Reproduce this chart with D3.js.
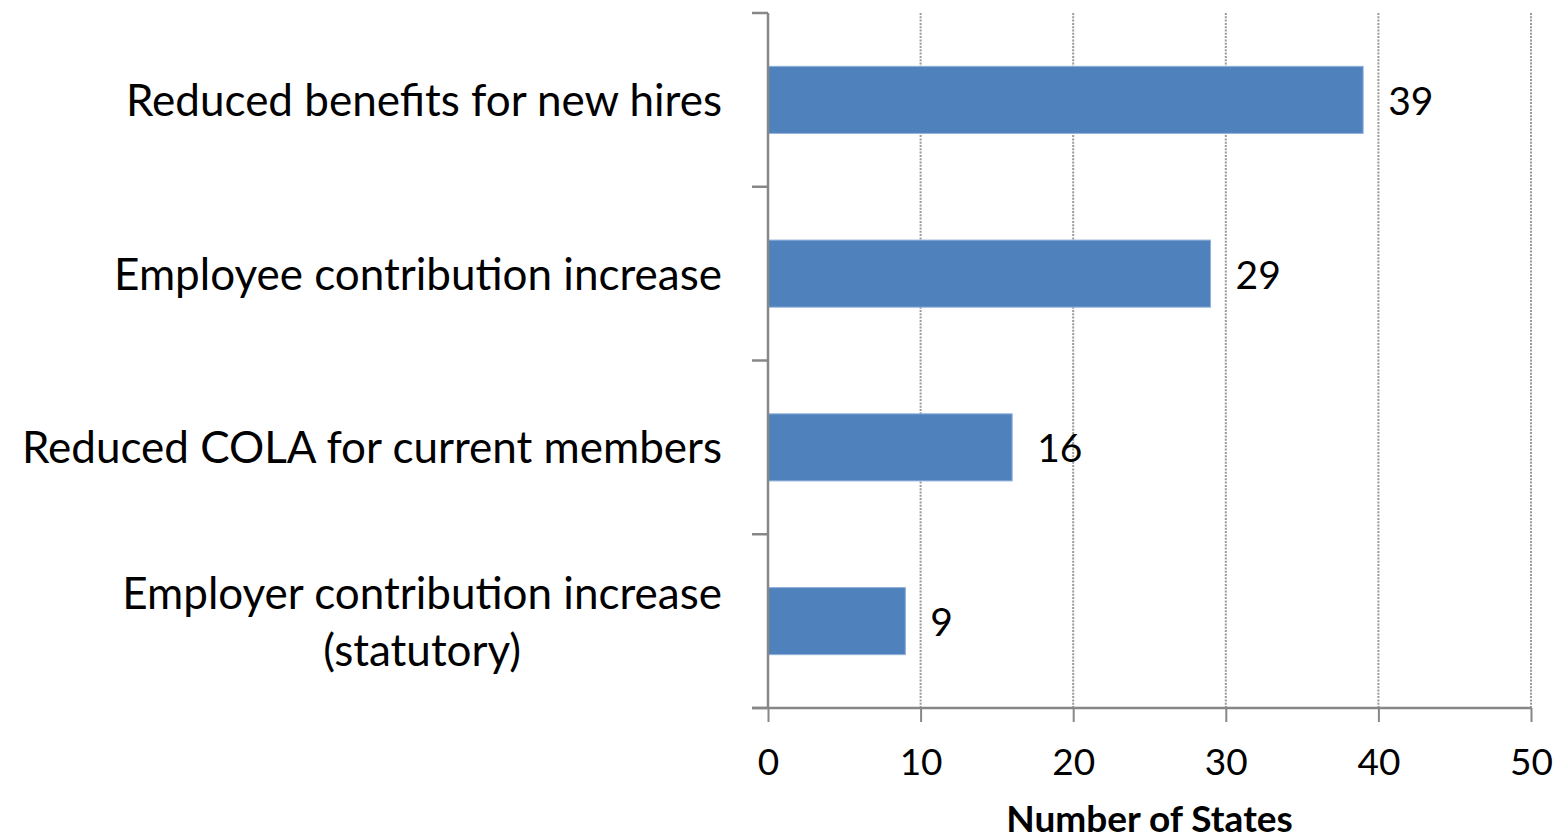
<!DOCTYPE html>
<html>
<head>
<meta charset="utf-8">
<script src="https://cdn.jsdelivr.net/npm/d3@7"></script>
<style>
  html, body { margin: 0; padding: 0; background: #fff; }
  svg { display: block; font-family: Lato, "Open Sans", sans-serif; }
</style>
</head>
<body>
<svg id="chart" width="1564" height="840"></svg>
<script>
// Pension reform measures adopted, by number of states
const categories = [
  ["Reduced benefits for new hires"],
  ["Employee contribution increase"],
  ["Reduced COLA for current members"],
  ["Employer contribution increase", "(statutory)"]
];
const values = [39, 29, 16, 9];
const xTicks = [0, 10, 20, 30, 40, 50];
const xTitle = "Number of States";

const svg = d3.select("#chart");
const plotLeft = 768, plotRight = 1531, plotTop = 13, plotBottom = 708;

const x = d3.scaleLinear().domain([0, 50]).range([plotLeft, plotRight]);
const keys = categories.map(c => c.join(" "));
const y = d3.scaleBand().domain(keys).range([plotTop, plotBottom])
  .paddingInner(0.614).paddingOuter(0.307);

const axisColor = "#878787";

// dotted vertical gridlines
svg.append("g").selectAll("line")
  .data(xTicks.filter(d => d > 0))
  .join("line")
  .attr("x1", d => x(d)).attr("x2", d => x(d))
  .attr("y1", plotTop).attr("y2", plotBottom)
  .attr("stroke", "#9a9a9a")
  .attr("stroke-width", 2)
  .attr("stroke-dasharray", "2,1.3");

// bars
svg.append("g").selectAll("rect")
  .data(values)
  .join("rect")
  .attr("x", x(0))
  .attr("y", (d, i) => y(keys[i]))
  .attr("width", d => x(d) - x(0))
  .attr("height", y.bandwidth())
  .attr("fill", "#4f81bd")
  .attr("stroke", "#8fb0da")
  .attr("stroke-width", 1);

// value labels
svg.append("g").selectAll("text")
  .data(values)
  .join("text")
  .attr("x", d => x(d) + 25)
  .attr("y", (d, i) => y(keys[i]) + y.bandwidth() / 2 + 15)
  .attr("font-size", 39)
  .attr("fill", "#000")
  .text(d => d);

// x axis
const xAxis = d3.axisBottom(x).tickValues(xTicks).tickSize(14).tickPadding(10)
  .tickFormat(d3.format("d"));
const gx = svg.append("g").attr("transform", `translate(0,${plotBottom})`).call(xAxis);
gx.select(".domain").remove();
gx.selectAll(".tick line").attr("stroke", axisColor).attr("stroke-width", 2);
gx.selectAll(".tick text").attr("font-size", 37).attr("fill", "#000")
  .attr("font-family", "Lato, sans-serif").attr("dy", null).attr("y", 67);
svg.append("line")
  .attr("x1", plotLeft - 16).attr("x2", plotRight)
  .attr("y1", plotBottom).attr("y2", plotBottom)
  .attr("stroke", axisColor).attr("stroke-width", 2.5);

// y axis line and boundary ticks
svg.append("line")
  .attr("x1", plotLeft).attr("x2", plotLeft)
  .attr("y1", plotTop).attr("y2", plotBottom)
  .attr("stroke", axisColor).attr("stroke-width", 2.5);
const bounds = d3.range(keys.length + 1).map(i => plotTop + i * y.step());
svg.append("g").selectAll("line")
  .data(bounds)
  .join("line")
  .attr("x1", plotLeft - 16).attr("x2", plotLeft)
  .attr("y1", d => d).attr("y2", d => d)
  .attr("stroke", axisColor).attr("stroke-width", 2.5);

// category labels (centred blocks, right edge aligned)
const labelRight = 722, lineGap = 57;
categories.forEach((lines, i) => {
  const cy = y(keys[i]) + y.bandwidth() / 2;
  const g = svg.append("g");
  const texts = lines.map((t, j) =>
    g.append("text")
      .attr("font-size", 44)
      .attr("fill", "#000")
      .attr("text-anchor", "middle")
      .attr("y", cy + 16 + (j - (lines.length - 1) / 2) * lineGap)
      .text(t));
  const maxW = d3.max(texts, t => t.node().getComputedTextLength());
  texts.forEach(t => t.attr("x", labelRight - maxW / 2));
});

// axis title
svg.append("text")
  .attr("x", (plotLeft + plotRight) / 2)
  .attr("y", 832)
  .attr("text-anchor", "middle")
  .attr("font-size", 37)
  .attr("font-weight", "bold")
  .attr("fill", "#000")
  .text(xTitle);
</script>
</body>
</html>
